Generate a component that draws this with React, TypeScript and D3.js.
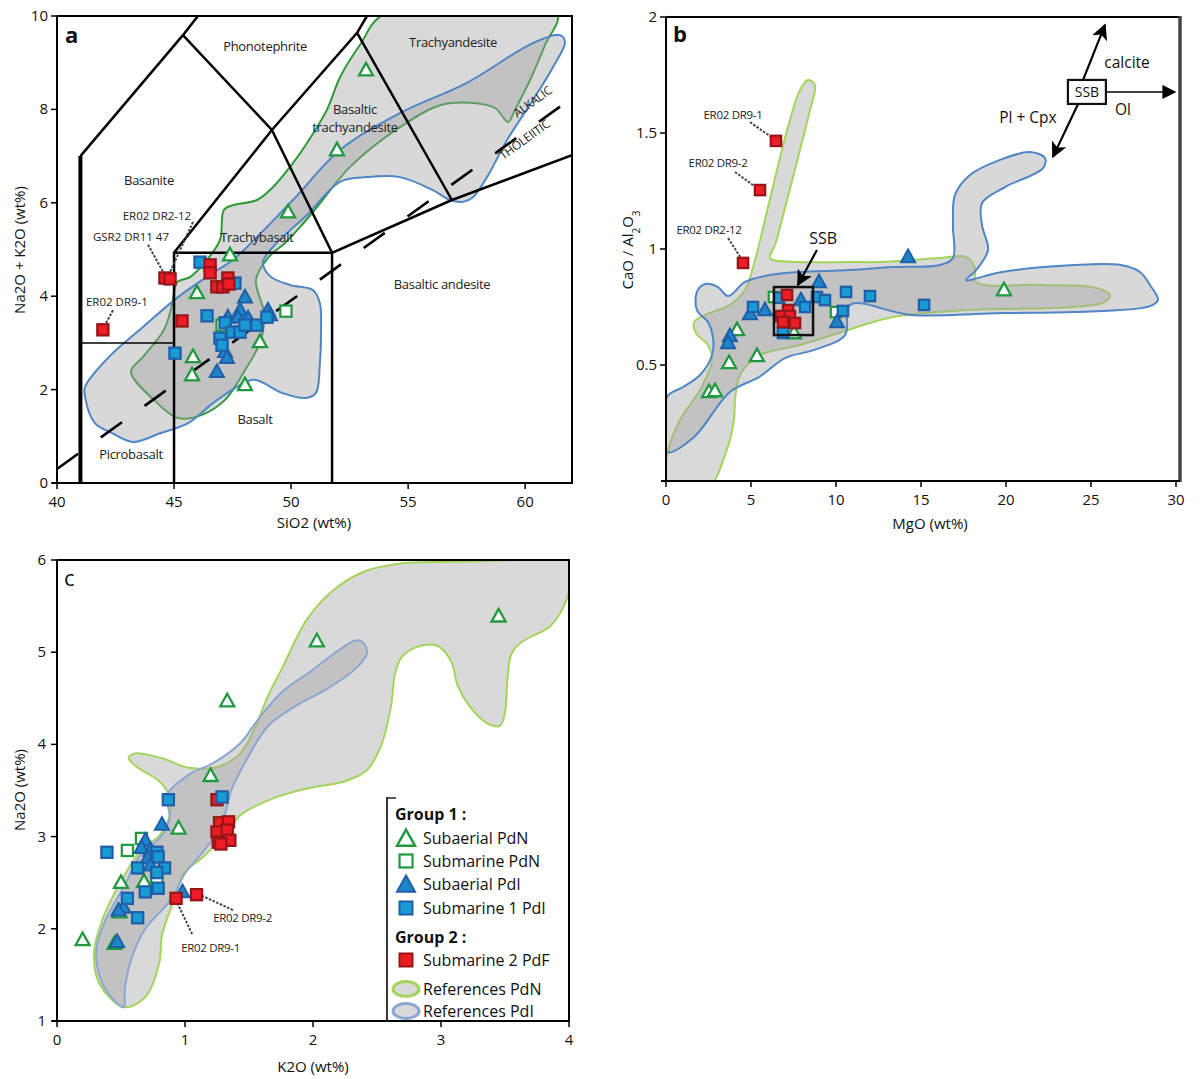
import React from "react";
import * as d3 from "d3";

type P = [number, number];

// ---------------- Panel a : TAS (SiO2 vs Na2O+K2O) ----------------
const aXTicks = [40, 45, 50, 55, 60];
const aYTicks = [0, 2, 4, 6, 8, 10];
const aSubaerialPdN: P[] = [[53.2, 8.84], [51.96, 7.13], [49.87, 5.8], [47.39, 4.88], [45.98, 4.07], [48.67, 3.02], [45.81, 2.7], [45.77, 2.31], [48.03, 2.1]];
const aSubmarinePdN: P[] = [[49.78, 3.68], [47.05, 3.38]];
const aSubaerialPdI: P[] = [[48.03, 3.98], [47.82, 3.7], [47.3, 3.55], [47.73, 3.55], [48.16, 3.53], [49.01, 3.7], [49.1, 3.6], [47.18, 2.81], [47.26, 2.68], [46.83, 2.38]];
const aSubmarine1PdI: P[] = [[46.11, 4.73], [47.6, 4.28], [46.41, 3.58], [47.18, 3.43], [47.48, 3.23], [47.82, 3.23], [48.03, 3.38], [48.54, 3.38], [48.97, 3.55], [46.96, 3.1], [47.05, 2.95], [45.04, 2.78]];
const aSubmarine2PdF: P[] = [[41.96, 3.28], [44.61, 4.39], [44.83, 4.37], [45.34, 3.47], [46.54, 4.67], [46.54, 4.5], [46.83, 4.2], [47.09, 4.2], [47.3, 4.39], [47.34, 4.26]];
const aRefPdN: P[] = [[43.16, 2.38], [43.67, 2.7], [44.57, 3.28], [44.91, 3.81], [45.13, 4.3], [45.68, 4.41], [46.32, 4.73], [46.96, 5.2], [47.13, 5.85], [47.52, 5.95], [48.54, 6.06], [49.23, 6.34], [50.08, 6.85], [50.68, 7.28], [51.53, 7.99], [52.09, 8.69], [52.94, 9.38], [54.01, 10.05], [61.36, 10.05], [60.85, 9.38], [60.21, 8.63], [59.56, 7.99], [59.27, 7.73], [58.71, 8.03], [57.64, 8.14], [56.36, 8.09], [54.65, 7.62], [52.52, 6.77], [51.11, 5.91], [50.38, 5.48], [49.74, 5.14], [49.01, 4.82], [48.5, 4.35], [48.84, 3.64], [48.71, 3.06], [47.99, 2.38], [47.18, 1.78], [46.19, 1.46], [45.17, 1.39], [44.14, 1.78]];
const aRefPdI: P[] = [[41.2, 2.06], [42.22, 2.7], [43.67, 3.34], [45.17, 3.98], [46.66, 4.5], [47.52, 4.78], [50.08, 6.06], [52.09, 7.13], [54.65, 7.92], [57.51, 8.57], [60.33, 9.42], [61.49, 9.59], [61.7, 9.44], [61.19, 8.91], [60.33, 8.2], [59.22, 7.34], [58.37, 6.55], [57.77, 6.12], [57.34, 6.02], [56.79, 6.06], [56.06, 6.27], [54.65, 6.55], [53.24, 6.55], [52.09, 6.45], [50.68, 5.74], [49.31, 5.1], [48.8, 4.73], [49.1, 4.43], [49.95, 4.24], [50.94, 4.13], [51.23, 3.85], [51.28, 3.28], [51.23, 2.57], [51.06, 1.93], [50.64, 1.82], [49.61, 1.93], [48.42, 2.21], [47.69, 2.06], [46.66, 1.71], [45.6, 1.28], [44.44, 1.07], [43.25, 0.88], [42.35, 1.07], [41.62, 1.28], [41.2, 1.84]];
const tasBoundaries: P[][] = [
  [[41, 7], [45.38, 9.59], [46.02, 10]],
  [[45.38, 9.59], [49.18, 7.56], [51.75, 4.93]],
  [[45, 0], [45, 4.93], [49.18, 7.56], [52.82, 9.64], [53.24, 10]],
  [[52.82, 9.64], [56.87, 6.06]],
  [[45, 4.93], [51.75, 4.93]],
  [[51.75, 0], [51.75, 4.93], [56.87, 6.06], [62, 7.02]],
];
const tasThick: P[] = [[41, 0], [41, 7]];
const tasThin: P[] = [[41, 3], [45, 3]];
const alkalicLine: P[] = [[40, 0.3], [61.6, 8.1]];
const aFieldNames = ["Phonotephrite", "Trachyandesite", "Basaltic", "trachyandesite", "Basanite", "Trachybasalt", "Basaltic andesite", "Basalt", "Picrobasalt"];
const aFieldPos: P[] = [[48.89, 9.34], [56.92, 9.42], [52.73, 7.99], [52.73, 7.6], [43.93, 6.47], [48.54, 5.25], [56.45, 4.24], [48.46, 1.35], [43.16, 0.6]];
const aSampleNames = ["ER02 DR2-12", "GSR2 DR11 47", "ER02 DR9-1"];
const aSamplePos: P[] = [[44.27, 5.72], [43.16, 5.27], [42.56, 3.88]];
const aLeaders: P[][] = [[[45.81, 5.59], [44.83, 4.52]], [[43.89, 5.1], [44.53, 4.52]], [[42.39, 3.7], [42.05, 3.38]]];

// ---------------- Panel b : MgO vs CaO/Al2O3 ----------------
const bXTicks = [0, 5, 10, 15, 20, 25, 30];
const bYTicks = [0.5, 1, 1.5, 2];
const bSubaerialPdN: P[] = [[19.88, 0.823], [4.18, 0.651], [3.71, 0.509], [5.35, 0.539], [2.53, 0.384], [2.88, 0.388], [7.53, 0.638]];
const bSubmarinePdN: P[] = [[6.35, 0.793], [10.0, 0.728]];
const bSubaerialPdI: P[] = [[14.24, 0.966], [9.0, 0.858], [7.94, 0.78], [5.82, 0.737], [4.94, 0.72], [10.06, 0.685], [3.76, 0.625], [3.65, 0.595]];
const bSubmarine1PdI: P[] = [[5.12, 0.75], [8.18, 0.75], [8.88, 0.793], [9.35, 0.78], [10.59, 0.815], [12.0, 0.797], [15.18, 0.759], [10.41, 0.733], [6.88, 0.638], [6.65, 0.79]];
const bSubmarine2PdF: P[] = [[6.47, 1.466], [5.53, 1.254], [4.53, 0.94], [7.12, 0.802], [7.18, 0.737], [6.76, 0.711], [7.29, 0.711], [6.88, 0.685], [7.59, 0.681]];
const bRefPdN: P[] = [[0.06, -0.02], [0.06, 0.112], [0.82, 0.263], [2.0, 0.392], [2.71, 0.522], [2.47, 0.586], [1.76, 0.638], [1.65, 0.685], [2.29, 0.716], [3.76, 0.759], [4.65, 0.823], [5.24, 0.953], [5.82, 1.125], [6.53, 1.341], [7.29, 1.556], [7.88, 1.685], [8.35, 1.728], [8.76, 1.707], [8.47, 1.599], [7.88, 1.427], [7.12, 1.211], [6.41, 1.017], [6.12, 0.961], [7.88, 0.944], [10.82, 0.944], [12.59, 0.944], [16.12, 0.961], [17.65, 0.966], [18.18, 0.918], [18.24, 0.858], [22.0, 0.845], [25.06, 0.836], [26.12, 0.802], [25.82, 0.772], [24.0, 0.75], [17.65, 0.737], [13.35, 0.707], [10.71, 0.651], [7.88, 0.586], [5.53, 0.543], [4.35, 0.457], [4.06, 0.349], [4.0, 0.263], [3.47, 0.112], [2.53, -0.02]];
const bRefPdI: P[] = [[0.06, 0.362], [1.0, 0.405], [2.0, 0.457], [2.71, 0.543], [2.76, 0.621], [2.47, 0.685], [1.82, 0.737], [1.82, 0.815], [2.29, 0.849], [3.06, 0.836], [3.65, 0.797], [4.65, 0.858], [6.12, 0.888], [7.88, 0.901], [10.82, 0.909], [13.35, 0.922], [16.12, 0.931], [16.88, 0.961], [16.88, 1.103], [17.0, 1.233], [17.88, 1.319], [19.65, 1.384], [21.41, 1.418], [22.29, 1.392], [22.18, 1.349], [19.94, 1.267], [18.59, 1.198], [18.59, 1.103], [18.94, 0.996], [18.24, 0.909], [17.65, 0.866], [19.76, 0.901], [24.0, 0.931], [26.76, 0.931], [27.88, 0.901], [28.47, 0.845], [28.94, 0.78], [28.47, 0.754], [24.0, 0.728], [19.76, 0.724], [14.41, 0.716], [10.82, 0.759], [10.53, 0.629], [8.71, 0.565], [7.0, 0.53], [5.47, 0.448], [3.76, 0.384], [1.65, 0.19], [0.06, 0.125]];
const bSampleNames = ["ER02 DR9-1", "ER02 DR9-2", "ER02 DR2-12"];
const bSamplePos: P[] = [[3.94, 1.578], [3.06, 1.371], [2.53, 1.082]];
const bLeaders: P[][] = [[[4.94, 1.547], [6.29, 1.478]], [[4.06, 1.332], [5.35, 1.263]], [[3.65, 1.047], [4.41, 0.961]]];
const bSSBBox: P[] = [[6.35, 0.836], [8.65, 0.629]];
const bSSBLabel: P = [9.24, 1.047];
const bSSBArrow: P[] = [[8.88, 0.996], [7.76, 0.845]];
const bVecCenter: P = [24.76, 1.677];
const bVectors: P[][] = [[[25.94, 1.677], [29.94, 1.677]], [[24.53, 1.728], [25.82, 1.966]], [[24.24, 1.625], [22.76, 1.397]]];
const bVecNames = ["Ol", "calcite", "Pl + Cpx"];
const bVecLabelPos: P[] = [[26.88, 1.599], [27.12, 1.802], [21.29, 1.565]];

// ---------------- Panel c : K2O vs Na2O ----------------
const cXTicks = [0, 1, 2, 3, 4];
const cYTicks = [1, 2, 3, 4, 5, 6];
const cSubaerialPdN: P[] = [[3.45, 5.39], [2.03, 5.12], [1.33, 4.47], [1.2, 3.66], [0.95, 3.09], [0.5, 2.5], [0.68, 2.51], [0.49, 2.18], [0.2, 1.88], [0.45, 1.84]];
const cSubmarinePdN: P[] = [[0.66, 2.98], [0.55, 2.85], [0.78, 2.55]];
const cSubaerialPdI: P[] = [[0.82, 3.13], [0.69, 2.96], [0.66, 2.88], [0.73, 2.85], [0.77, 2.8], [0.71, 2.77], [0.73, 2.69], [0.98, 2.4], [0.52, 2.23], [0.48, 2.2], [0.47, 1.86]];
const cSubmarine1PdI: P[] = [[0.87, 3.4], [0.39, 2.83], [0.78, 2.83], [0.79, 2.78], [0.84, 2.66], [0.63, 2.66], [0.78, 2.61], [0.79, 2.44], [0.69, 2.4], [0.55, 2.33], [0.63, 2.12]];
const cSubmarine2PdF: P[] = [[1.25, 3.4], [1.27, 3.15], [1.34, 3.16], [1.25, 3.05], [1.33, 3.07], [1.26, 2.94], [1.35, 2.96], [1.28, 2.92], [1.09, 2.37], [0.93, 2.33]];
const cLateSubmarine1PdI: P[] = [[1.29, 3.43]];
const cRefPdN: P[] = [[0.52, 1.15], [0.33, 1.41], [0.29, 1.75], [0.36, 2.12], [0.49, 2.49], [0.66, 2.86], [0.8, 3.01], [0.88, 3.23], [0.87, 3.46], [0.8, 3.6], [0.63, 3.75], [0.56, 3.85], [0.6, 3.9], [0.82, 3.85], [1.02, 3.75], [1.24, 3.75], [1.43, 3.9], [1.54, 4.16], [1.65, 4.53], [1.76, 4.83], [1.95, 5.35], [2.14, 5.65], [2.39, 5.87], [2.67, 5.96], [3.08, 5.98], [3.63, 6.0], [4.02, 6.02], [4.02, 5.8], [3.96, 5.5], [3.85, 5.28], [3.63, 5.11], [3.55, 4.98], [3.52, 4.72], [3.5, 4.35], [3.46, 4.2], [3.35, 4.24], [3.22, 4.42], [3.13, 4.64], [3.08, 4.9], [2.97, 5.07], [2.8, 5.05], [2.69, 4.94], [2.64, 4.76], [2.61, 4.42], [2.53, 3.98], [2.42, 3.72], [2.25, 3.6], [1.98, 3.53], [1.7, 3.42], [1.43, 3.23], [1.35, 3.08], [1.15, 2.79], [0.99, 2.6], [0.91, 2.3], [0.82, 1.93], [0.8, 1.64], [0.69, 1.26]];
const cRefPdI: P[] = [[0.52, 1.15], [0.4, 1.3], [0.32, 1.55], [0.31, 1.8], [0.38, 2.1], [0.52, 2.45], [0.66, 2.82], [0.8, 2.98], [0.88, 3.2], [0.86, 3.45], [1.04, 3.68], [1.21, 3.79], [1.43, 4.01], [1.57, 4.27], [1.76, 4.57], [1.98, 4.79], [2.2, 5.02], [2.34, 5.13], [2.4, 5.09], [2.42, 4.98], [2.34, 4.83], [2.12, 4.61], [1.87, 4.42], [1.65, 4.2], [1.48, 3.83], [1.37, 3.53], [1.32, 3.28], [1.28, 3.1], [1.15, 2.85], [1.0, 2.6], [0.92, 2.38], [0.85, 2.25], [0.69, 2.0], [0.58, 1.67], [0.53, 1.35]];
const cSampleNames = ["ER02 DR9-2", "ER02 DR9-1"];
const cSamplePos: P[] = [[1.45, 2.12], [1.2, 1.79]];
const cLeaders: P[][] = [[[1.13, 2.36], [1.38, 2.2]], [[0.94, 2.28], [1.06, 1.93]]];

// ---------------- Legend ----------------
const legendGroups = ["Group 1 :", "Group 2 :"];
const legendItems = ["Subaerial PdN", "Submarine PdN", "Subaerial PdI", "Submarine 1 PdI", "Submarine 2 PdF", "References PdN", "References PdI"];

const FONT = "'Open Sans', 'Noto Sans', 'DejaVu Sans', sans-serif";
const GREEN = "#1f9a3e";
const RED_F = "#ee1c25";
const RED_S = "#961518";
const BLUE_S = "#1f5ea8";
const BLUE_TRI = "#1d86c8";
const BLUE_SQ = "#1a9ad3";
const REF_FILL = "#d9d9d9";
const PDI_FILL = "#a3a3a3";

type Scale = d3.ScaleLinear<number, number>;

function triPath(x: number, y: number, s: number) {
  return `M${x},${y - s * 1.05}L${x + s},${y + s * 0.75}L${x - s},${y + s * 0.75}Z`;
}

function Markers({ data, xs, ys, kind, size }: { data: P[]; xs: Scale; ys: Scale; kind: string; size: number }) {
  return (
    <g>
      {data.map((d, i) => {
        const x = xs(d[0]);
        const y = ys(d[1]);
        if (kind === "triOpen")
          return <path key={i} d={triPath(x, y, size)} fill="#fff" stroke={GREEN} strokeWidth={2.3} strokeLinejoin="miter" />;
        if (kind === "triFill")
          return <path key={i} d={triPath(x, y, size)} fill={BLUE_TRI} stroke={BLUE_S} strokeWidth={2} />;
        const h = size * 0.8;
        if (kind === "sqOpen")
          return <rect key={i} x={x - h} y={y - h} width={2 * h} height={2 * h} fill="#fff" stroke={GREEN} strokeWidth={2.2} />;
        if (kind === "sqBlue")
          return <rect key={i} x={x - h} y={y - h} width={2 * h} height={2 * h} fill={BLUE_SQ} stroke={BLUE_S} strokeWidth={2.2} />;
        return <rect key={i} x={x - h} y={y - h} width={2 * h} height={2 * h} fill={RED_F} stroke={RED_S} strokeWidth={2.2} />;
      })}
    </g>
  );
}

function Frame({ xs, ys, xTicks, yTicks, rightX, rightColor, rightWidth, labelOffset }: any) {
  const [x0, x1] = xs.range();
  const [y0, y1] = ys.range();
  return (
    <g fontFamily={FONT} fill="#111">
      <line x1={x0} x2={rightX} y1={y1} y2={y1} stroke="#000" strokeWidth={2} />
      <line x1={rightX} x2={rightX} y1={y1 - 1} y2={y0 + 1} stroke={rightColor} strokeWidth={rightWidth} />
      <line x1={x0} x2={x0} y1={y1} y2={y0} stroke="#000" strokeWidth={2} />
      <line x1={x0 - 5} x2={rightX} y1={y0} y2={y0} stroke="#000" strokeWidth={2.2} />
      {xTicks.map((t: number) => (
        <g key={"x" + t}>
          <line x1={xs(t)} x2={xs(t)} y1={y0} y2={y0 + 6} stroke="#000" strokeWidth={1.5} />
          <text x={xs(t)} y={y0 + 24} textAnchor="middle" fontSize={15}>{String(t)}</text>
        </g>
      ))}
      {yTicks.map((t: number) => (
        <g key={"y" + t}>
          <line x1={x0 - 6} x2={x0} y1={ys(t)} y2={ys(t)} stroke="#000" strokeWidth={1.5} />
          <text x={x0 - labelOffset} y={ys(t) + 5} textAnchor="end" fontSize={15}>{String(t)}</text>
        </g>
      ))}
    </g>
  );
}

function Regions({ pdn, pdi, xs, ys, clip, pdnStroke, pdiStroke }: any) {
  const line = d3.line<P>().x((d) => xs(d[0])).y((d) => ys(d[1])).curve(d3.curveCatmullRomClosed.alpha(0.5));
  return (
    <g clipPath={`url(#${clip})`}>
      <path d={line(pdn) || ""} fill={REF_FILL} stroke={pdnStroke} strokeWidth={2} />
      <path d={line(pdi) || ""} fill={PDI_FILL} fillOpacity={0.42} stroke={pdiStroke} strokeWidth={2} />
    </g>
  );
}

function Leader({ seg, xs, ys }: { seg: P[]; xs: Scale; ys: Scale }) {
  return (
    <line x1={xs(seg[0][0])} y1={ys(seg[0][1])} x2={xs(seg[1][0])} y2={ys(seg[1][1])} stroke="#444" strokeWidth={2} strokeDasharray="2.5 1.5" />
  );
}

export default function App() {
  const ax = d3.scaleLinear().domain([40, 62]).range([57, 572]);
  const ay = d3.scaleLinear().domain([0, 10]).range([483, 16]);
  const bx = d3.scaleLinear().domain([0, 30]).range([666, 1176]);
  const by = d3.scaleLinear().domain([0, 2]).range([481, 17]);
  const cx = d3.scaleLinear().domain([0, 4]).range([57, 569]);
  const cy = d3.scaleLinear().domain([1, 6]).range([1021, 560]);

  const pl = (xs: Scale, ys: Scale) => d3.line<P>().x((d) => xs(d[0])).y((d) => ys(d[1]));
  const lineA = pl(ax, ay);

  const legX = 406;
  const legRows = [838, 861, 884, 908, 960, 989, 1011];

  return (
    <svg width={1202} height={1079} style={{ position: "absolute", left: 0, top: 0, background: "#fff" }} fontFamily={FONT}>
      <defs>
        <clipPath id="clipA"><rect x={57} y={16} width={515} height={467} /></clipPath>
        <clipPath id="clipB"><rect x={666} y={17} width={514} height={464} /></clipPath>
        <clipPath id="clipC"><rect x={57} y={560} width={512} height={461} /></clipPath>
        <marker id="ah" viewBox="0 0 10 10" refX={9} refY={5} markerWidth={16} markerHeight={16} markerUnits="userSpaceOnUse" orient="auto">
          <path d="M0,0L10,5L0,10L2.5,5Z" fill="#000" />
        </marker>
        <marker id="ahs" viewBox="0 0 10 10" refX={9} refY={5} markerWidth={14} markerHeight={14} markerUnits="userSpaceOnUse" orient="auto">
          <path d="M0,0L10,5L0,10Z" fill="#000" />
        </marker>
      </defs>

      {/* ================= Panel a ================= */}
      <Regions pdn={aRefPdN} pdi={aRefPdI} xs={ax} ys={ay} clip="clipA" pdnStroke="#2f9a35" pdiStroke="#4f86c6" />
      <g clipPath="url(#clipA)" fill="none" stroke="#000">
        {tasBoundaries.map((b, i) => (
          <path key={i} d={lineA(b) || ""} strokeWidth={2.5} />
        ))}
        <path d={lineA(tasThick) || ""} strokeWidth={4} />
        <path d={lineA(tasThin) || ""} strokeWidth={1.5} />
        <path d={lineA(alkalicLine) || ""} strokeWidth={2.6} strokeDasharray="26 28" />
      </g>
      <g fontSize={13} fill="#222" textAnchor="middle" style={{ letterSpacing: "-0.3px" }}>
        {aFieldNames.map((n, i) => (
          <text key={i} x={ax(aFieldPos[i][0])} y={ay(aFieldPos[i][1]) + 4}>{n}</text>
        ))}
        <text transform={`translate(${ax(60.42)},${ay(8.09)}) rotate(-36)`} fontSize={12}>ALKALIC</text>
        <text transform={`translate(${ax(60.08)},${ay(7.28)}) rotate(-36)`} fontSize={12}>THOLEIITIC</text>
      </g>
      <g fontSize={11.5} fill="#222" textAnchor="middle">
        {aSampleNames.map((n, i) => (
          <text key={i} x={ax(aSamplePos[i][0])} y={ay(aSamplePos[i][1]) + 4}>{n}</text>
        ))}
      </g>
      {aLeaders.map((s, i) => <Leader key={i} seg={s} xs={ax} ys={ay} />)}
      <Markers data={aSubaerialPdN} xs={ax} ys={ay} kind="triOpen" size={7} />
      <Markers data={aSubmarinePdN} xs={ax} ys={ay} kind="sqOpen" size={7} />
      <Markers data={aSubaerialPdI} xs={ax} ys={ay} kind="triFill" size={7} />
      <Markers data={aSubmarine1PdI} xs={ax} ys={ay} kind="sqBlue" size={7} />
      <Markers data={aSubmarine2PdF} xs={ax} ys={ay} kind="sqRed" size={7} />
      <Frame xs={ax} ys={ay} xTicks={aXTicks} yTicks={aYTicks} rightX={572} rightColor="#000" rightWidth={2} labelOffset={9} />
      <text x={65} y={43} fontSize={22} fontWeight="bold" fill="#111">a</text>
      <text x={314} y={528} textAnchor="middle" fontSize={15} fill="#111">SiO2 (wt%)</text>
      <text transform="translate(25,250) rotate(-90)" textAnchor="middle" fontSize={15} fill="#111">Na2O + K2O (wt%)</text>

      {/* ================= Panel b ================= */}
      <Regions pdn={bRefPdN} pdi={bRefPdI} xs={bx} ys={by} clip="clipB" pdnStroke="#a3d55b" pdiStroke="#4f86c6" />
      <g fontSize={11.5} fill="#222" textAnchor="middle" style={{ letterSpacing: "-0.3px" }}>
        {bSampleNames.map((n, i) => (
          <text key={i} x={bx(bSamplePos[i][0])} y={by(bSamplePos[i][1]) + 4}>{n}</text>
        ))}
      </g>
      {bLeaders.map((s, i) => <Leader key={i} seg={s} xs={bx} ys={by} />)}
      <Markers data={bSubaerialPdN} xs={bx} ys={by} kind="triOpen" size={7} />
      <Markers data={bSubmarinePdN} xs={bx} ys={by} kind="sqOpen" size={6.5} />
      <Markers data={bSubaerialPdI} xs={bx} ys={by} kind="triFill" size={7} />
      <Markers data={bSubmarine1PdI} xs={bx} ys={by} kind="sqBlue" size={6.5} />
      <Markers data={bSubmarine2PdF} xs={bx} ys={by} kind="sqRed" size={6.5} />
      <rect x={bx(bSSBBox[0][0])} y={by(bSSBBox[0][1])} width={bx(bSSBBox[1][0]) - bx(bSSBBox[0][0])} height={by(bSSBBox[1][1]) - by(bSSBBox[0][1])} fill="none" stroke="#111" strokeWidth={2.5} />
      <text x={bx(bSSBLabel[0])} y={by(bSSBLabel[1]) + 6} textAnchor="middle" fontSize={16} fill="#111">SSB</text>
      <line x1={bx(bSSBArrow[0][0])} y1={by(bSSBArrow[0][1])} x2={bx(bSSBArrow[1][0])} y2={by(bSSBArrow[1][1])} stroke="#000" strokeWidth={2.2} markerEnd="url(#ah)" />
      {bVectors.map((v, i) => (
        <line key={i} x1={bx(v[0][0])} y1={by(v[0][1])} x2={bx(v[1][0])} y2={by(v[1][1])} stroke="#000" strokeWidth={i === 0 ? 1.5 : 2.2} markerEnd={i === 0 ? "url(#ahs)" : "url(#ah)"} />
      ))}
      <rect x={bx(bVecCenter[0]) - 19} y={by(bVecCenter[1]) - 12} width={38} height={24} fill="#fff" stroke="#111" strokeWidth={2.2} />
      <text x={bx(bVecCenter[0])} y={by(bVecCenter[1]) + 5} textAnchor="middle" fontSize={14} fill="#111">SSB</text>
      <g fontSize={15.5} fill="#111" textAnchor="middle">
        {bVecNames.map((n, i) => (
          <text key={i} x={bx(bVecLabelPos[i][0])} y={by(bVecLabelPos[i][1]) + 5}>{n}</text>
        ))}
      </g>
      <Frame xs={bx} ys={by} xTicks={bXTicks} yTicks={bYTicks} rightX={1180} rightColor="#444" rightWidth={3.5} labelOffset={9} />
      <text x={673} y={42} fontSize={22} fontWeight="bold" fill="#111">b</text>
      <text x={930} y={529} textAnchor="middle" fontSize={15} fill="#111">MgO (wt%)</text>
      <text transform="translate(633,250) rotate(-90)" textAnchor="middle" fontSize={15} fill="#111">
        CaO / Al<tspan baselineShift="sub" fontSize={10}>2</tspan>O<tspan baselineShift="sub" fontSize={10}>3</tspan>
      </text>

      {/* ================= Panel c ================= */}
      <Regions pdn={cRefPdN} pdi={cRefPdI} xs={cx} ys={cy} clip="clipC" pdnStroke="#a3d55b" pdiStroke="#8aa6d2" />
      <g fontSize={11.5} fill="#222" textAnchor="middle" style={{ letterSpacing: "-0.3px" }}>
        {cSampleNames.map((n, i) => (
          <text key={i} x={cx(cSamplePos[i][0])} y={cy(cSamplePos[i][1]) + 4}>{n}</text>
        ))}
      </g>
      {cLeaders.map((s, i) => <Leader key={i} seg={s} xs={cx} ys={cy} />)}
      <Markers data={cSubaerialPdN} xs={cx} ys={cy} kind="triOpen" size={7} />
      <Markers data={cSubmarinePdN} xs={cx} ys={cy} kind="sqOpen" size={7} />
      <Markers data={cSubaerialPdI} xs={cx} ys={cy} kind="triFill" size={7} />
      <Markers data={cSubmarine1PdI} xs={cx} ys={cy} kind="sqBlue" size={7} />
      <Markers data={cSubmarine2PdF} xs={cx} ys={cy} kind="sqRed" size={7} />
      <Markers data={cLateSubmarine1PdI} xs={cx} ys={cy} kind="sqBlue" size={7} />
      <Frame xs={cx} ys={cy} xTicks={cXTicks} yTicks={cYTicks} rightX={569} rightColor="#000" rightWidth={2} labelOffset={11} />
      <text x={64} y={586} fontSize={22} fill="#111">c</text>
      <text x={313} y={1072} textAnchor="middle" fontSize={15} fill="#111">K2O (wt%)</text>
      <text transform="translate(25,790) rotate(-90)" textAnchor="middle" fontSize={15} fill="#111">Na2O (wt%)</text>

      {/* Legend */}
      <g fontFamily={FONT} fill="#111">
        <line x1={387} x2={387} y1={797} y2={1022} stroke="#222" strokeWidth={1.8} />
        <line x1={387} x2={396} y1={798} y2={798} stroke="#222" strokeWidth={1.5} />
        <text x={395} y={820} fontSize={16} fontWeight="bold">{legendGroups[0]}</text>
        <text x={395} y={943} fontSize={16} fontWeight="bold">{legendGroups[1]}</text>
        <path d={triPath(legX, legRows[0] + 1, 9)} fill="#fff" stroke={GREEN} strokeWidth={2.5} />
        <rect x={legX - 6.5} y={legRows[1] - 6.5} width={13} height={13} fill="#fff" stroke={GREEN} strokeWidth={2.2} />
        <path d={triPath(legX, legRows[2] + 1, 9)} fill={BLUE_TRI} stroke={BLUE_S} strokeWidth={2} />
        <rect x={legX - 6.5} y={legRows[3] - 6.5} width={13} height={13} fill={BLUE_SQ} stroke={BLUE_S} strokeWidth={2} />
        <rect x={legX - 6.5} y={legRows[4] - 6.5} width={13} height={13} fill={RED_F} stroke={RED_S} strokeWidth={2} />
        <ellipse cx={legX} cy={legRows[5]} rx={13} ry={7.5} fill={REF_FILL} stroke="#a3d55b" strokeWidth={3} />
        <ellipse cx={legX} cy={legRows[6]} rx={13} ry={7.5} fill={REF_FILL} stroke="#8aa6d2" strokeWidth={3} />
        {legendItems.map((t, i) => (
          <text key={i} x={423} y={legRows[i] + 6} fontSize={16}>{t}</text>
        ))}
      </g>
    </svg>
  );
}
